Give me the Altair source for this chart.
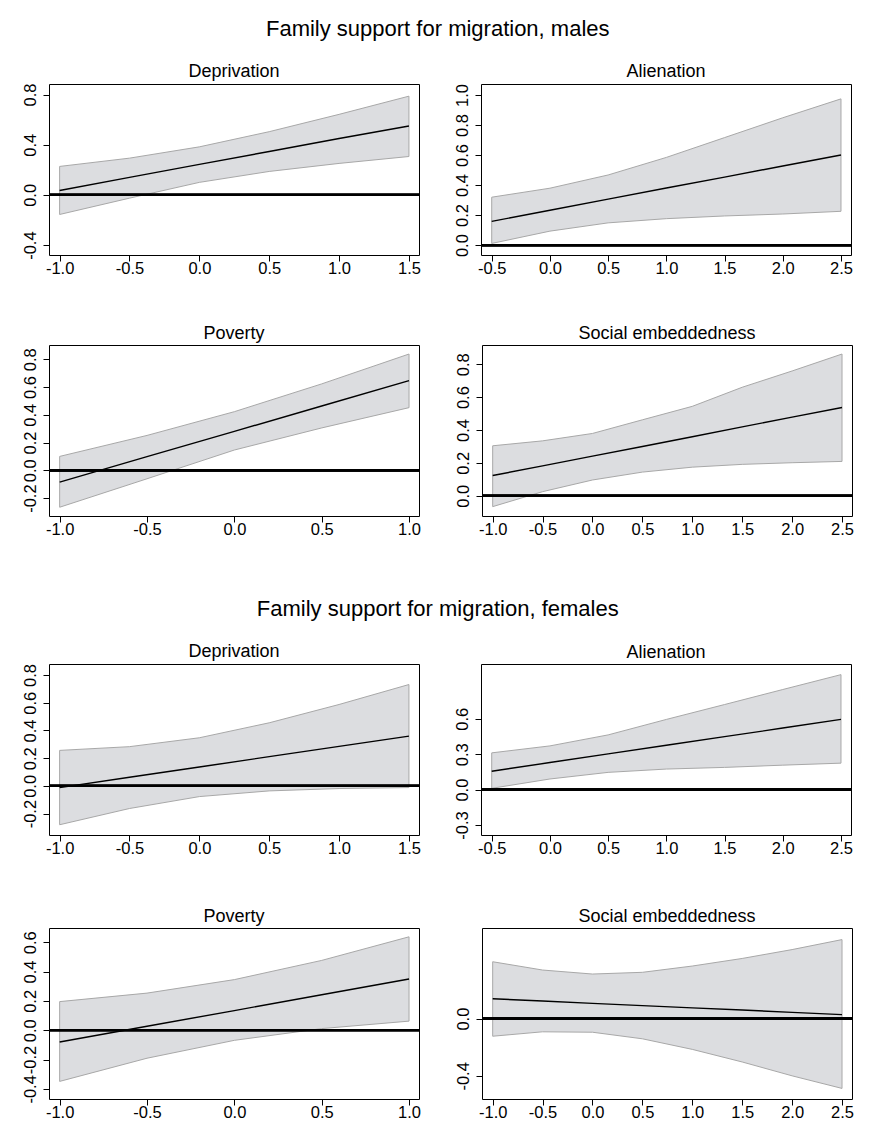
import altair as alt
import pandas as pd

FONT = "Liberation Sans"
MINUS = "\u2212"

# ---------------- data ----------------
x_dep = [-1.0, -0.5, 0.0, 0.5, 1.0, 1.5]
x_ali = [-0.5, 0.0, 0.5, 1.0, 1.5, 2.0, 2.5]
x_pov = [-1.0, -0.5, 0.0, 0.5, 1.0]
x_soc = [-1.0, -0.5, 0.0, 0.5, 1.0, 1.5, 2.0, 2.5]

# males
m_dep_est = [0.035, 0.140, 0.243, 0.346, 0.450, 0.549]
m_dep_lo = [-0.156, -0.026, 0.100, 0.187, 0.251, 0.306]
m_dep_hi = [0.227, 0.293, 0.383, 0.504, 0.642, 0.787]

m_ali_est = [0.158, 0.232, 0.306, 0.380, 0.453, 0.527, 0.600]
m_ali_lo = [0.011, 0.093, 0.148, 0.176, 0.194, 0.207, 0.225]
m_ali_hi = [0.319, 0.379, 0.467, 0.584, 0.716, 0.848, 0.974]

m_pov_est = [-0.085, 0.098, 0.280, 0.463, 0.646]
m_pov_lo = [-0.266, -0.061, 0.146, 0.305, 0.451]
m_pov_hi = [0.100, 0.251, 0.422, 0.622, 0.837]

m_soc_est = [0.123, 0.182, 0.241, 0.300, 0.359, 0.419, 0.478, 0.537]
m_soc_lo = [-0.066, 0.025, 0.096, 0.144, 0.174, 0.191, 0.201, 0.209]
m_soc_hi = [0.304, 0.334, 0.379, 0.462, 0.544, 0.660, 0.759, 0.862]

# females
f_dep_est = [-0.012, 0.062, 0.136, 0.211, 0.285, 0.359]
f_dep_lo = [-0.280, -0.163, -0.077, -0.036, -0.019, -0.012]
f_dep_hi = [0.256, 0.283, 0.347, 0.455, 0.587, 0.731]

f_ali_est = [0.156, 0.229, 0.302, 0.375, 0.448, 0.521, 0.594]
f_ali_lo = [0.011, 0.090, 0.146, 0.174, 0.188, 0.207, 0.224]
f_ali_hi = [0.311, 0.370, 0.463, 0.594, 0.720, 0.847, 0.973]

f_pov_est = [-0.080, 0.027, 0.134, 0.242, 0.349]
f_pov_lo = [-0.349, -0.191, -0.069, 0.011, 0.062]
f_pov_hi = [0.195, 0.253, 0.345, 0.476, 0.637]

f_soc_est = [0.139, 0.123, 0.107, 0.091, 0.075, 0.060, 0.044, 0.028]
f_soc_lo = [-0.123, -0.092, -0.095, -0.141, -0.215, -0.303, -0.400, -0.488]
f_soc_hi = [0.398, 0.340, 0.312, 0.324, 0.368, 0.421, 0.483, 0.553]

# axis ticks
xt_dep = [-1.0, -0.5, 0.0, 0.5, 1.0, 1.5]
xt_ali = [-0.5, 0.0, 0.5, 1.0, 1.5, 2.0, 2.5]
xt_pov = [-1.0, -0.5, 0.0, 0.5, 1.0]
xt_soc = [-1.0, -0.5, 0.0, 0.5, 1.0, 1.5, 2.0, 2.5]

W, H = 370, 171
LABEL_EXPR = "replace(format(datum.value, '.1f'), '" + MINUS + "', '-')"
LFS = 16.5


def panel(title, xs, est, lo, hi, xdom, ydom, xticks, yticks):
    df = pd.DataFrame({"x": xs, "est": est, "lo": lo, "hi": hi, "zero": [0.0] * len(xs)})
    xsc = alt.Scale(domain=xdom, nice=False, zero=False)
    ysc = alt.Scale(domain=ydom, nice=False, zero=False)
    xax = alt.Axis(values=xticks, title=None, labelExpr=LABEL_EXPR, grid=False,
                   domain=False, tickColor="black", tickSize=6, labelPadding=-1,
                   labelFontSize=LFS, labelFont=FONT, labelColor="black",
                   labelFlush=False, labelOverlap=False)
    yax = alt.Axis(values=yticks, title=None, labelExpr=LABEL_EXPR, grid=False,
                   domain=False, tickColor="black", tickSize=6, labelPadding=5,
                   labelFontSize=LFS, labelFont=FONT, labelColor="black",
                   labelAngle=-90, labelAlign="center", labelBaseline="bottom",
                   labelFlush=False, labelOverlap=False)
    X = alt.X("x:Q", scale=xsc, axis=xax)
    base = alt.Chart(df)
    area = base.mark_area(color="#dcdde0", stroke="#a8a8a8", strokeWidth=1, clip=True).encode(
        x=X,
        y=alt.Y("lo:Q", scale=ysc, axis=yax),
        y2="hi:Q",
    )
    line = base.mark_line(color="black", strokeWidth=1.4, clip=True).encode(
        x=X,
        y=alt.Y("est:Q", scale=ysc, axis=yax),
    )
    rule = base.mark_rule(color="black", strokeWidth=2.2, clip=True).encode(
        y=alt.Y("zero:Q", scale=ysc, axis=yax),
    )
    return alt.layer(area, line, rule).properties(
        width=W, height=H,
        title=alt.TitleParams(title, fontSize=18, fontWeight="normal", font=FONT,
                              color="black", offset=2),
    )


p1 = panel("Deprivation", x_dep, m_dep_est, m_dep_lo, m_dep_hi,
           [-1.076, 1.572], [-0.479, 0.884], xt_dep, [-0.4, 0.0, 0.4, 0.8])
p2 = panel("Alienation", x_ali, m_ali_est, m_ali_lo, m_ali_hi,
           [-0.592, 2.586], [-0.066, 1.073], xt_ali, [0.0, 0.2, 0.4, 0.6, 0.8, 1.0])
p3 = panel("Poverty", x_pov, m_pov_est, m_pov_lo, m_pov_hi,
           [-1.061, 1.057], [-0.329, 0.902], xt_pov, [-0.2, 0.0, 0.2, 0.4, 0.6, 0.8])
p4 = panel("Social embeddedness", x_soc, m_soc_est, m_soc_lo, m_soc_hi,
           [-1.107, 2.6], [-0.123, 0.917], xt_soc, [0.0, 0.2, 0.4, 0.6, 0.8])

p5 = panel("Deprivation", x_dep, f_dep_est, f_dep_lo, f_dep_hi,
           [-1.076, 1.572], [-0.354, 0.879], xt_dep, [-0.2, 0.0, 0.2, 0.4, 0.6, 0.8])
p6 = panel("Alienation", x_ali, f_ali_est, f_ali_lo, f_ali_hi,
           [-0.592, 2.586], [-0.384, 1.063], xt_ali, [-0.3, 0.0, 0.3, 0.6])
p7 = panel("Poverty", x_pov, f_pov_est, f_pov_lo, f_pov_hi,
           [-1.061, 1.057], [-0.469, 0.697], xt_pov, [-0.4, -0.2, 0.0, 0.2, 0.4, 0.6])
p8 = panel("Social embeddedness", x_soc, f_soc_est, f_soc_lo, f_soc_hi,
           [-1.107, 2.6], [-0.562, 0.634], xt_soc, [-0.4, 0.0])

HS = 32
males = alt.vconcat(
    alt.hconcat(p1, p2, spacing=HS),
    alt.hconcat(p3, p4, spacing=HS),
    spacing=47,
    title=alt.TitleParams("Family support for migration, males", fontSize=22,
                          fontWeight="normal", font=FONT, color="black",
                          anchor="middle", offset=22),
)
females = alt.vconcat(
    alt.hconcat(p5, p6, spacing=HS),
    alt.hconcat(p7, p8, spacing=HS),
    spacing=50,
    title=alt.TitleParams("Family support for migration, females", fontSize=22,
                          fontWeight="normal", font=FONT, color="black",
                          anchor="middle", offset=22),
)

chart = alt.vconcat(males, females, spacing=59).properties(
    padding={"left": 13, "top": 9, "right": 5, "bottom": 5},
    background="white",
).configure_view(stroke="black", strokeWidth=1).configure_axis(labelOverlap=False)

chart.save("out.html", embed_options={"renderer": "svg", "actions": False})
